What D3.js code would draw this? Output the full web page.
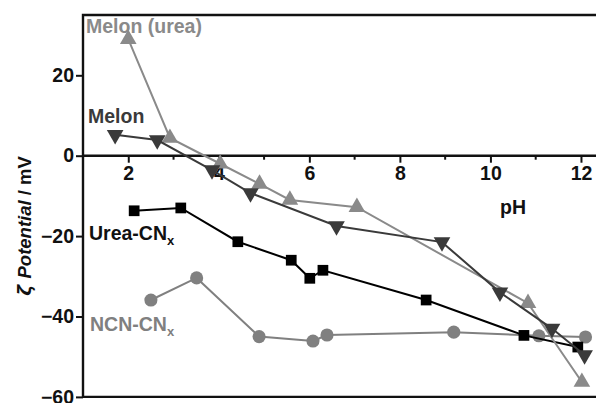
<!DOCTYPE html>
<html>
<head>
<meta charset="utf-8">
<script src="https://cdn.jsdelivr.net/npm/d3@7"></script>
<style>
  body { margin: 0; background: #fff; }
  svg { display: block; font-family: Arial, "Liberation Sans", sans-serif; font-weight: bold; }
</style>
</head>
<body>
<div id="chart"></div>
<script>
// pH values and zeta potentials (mV)
var melonUreaPH = [2.0, 2.92, 4.03, 4.9, 5.57, 7.05, 10.83, 12.02];
var melonUreaZ  = [29, 4.4, -2, -7, -11, -12.8, -36.7, -56.3];

var melonPH = [1.71, 2.64, 3.85, 4.7, 6.6, 8.93, 10.21, 11.36, 12.08];
var melonZ  = [5.2, 3.9, -3.6, -9.3, -17.5, -21.5, -34, -43, -49.6];

var ureaPH = [2.13, 3.16, 4.42, 5.6, 6.01, 6.3, 8.58, 10.74, 11.93];
var ureaZ  = [-13.7, -13.0, -21.4, -26, -30.5, -28.5, -35.9, -44.7, -47.6];

var ncnPH = [2.5, 3.51, 4.89, 6.08, 6.39, 9.19, 11.07, 12.1];
var ncnZ  = [-35.9, -30.4, -45, -46.1, -44.6, -43.9, -44.8, -45.1];

var xTicks = [2, 4, 6, 8, 10, 12];
var xMinor = [3, 5, 7, 9, 11];
var yTicks = [20, 0, -20, -40, -60];

var cfg = {
  w: 596, h: 403,
  margin: {top: 15, left: 83},
  xDomain: [1, 12.5],
  yDomain: [-60, 35],
  pxPerPH: 45.27,
  pxPerMV: 4.02,
  font: "Arial, 'Liberation Sans', sans-serif"
};

var svg = d3.select("#chart").append("svg")
  .attr("width", cfg.w)
  .attr("height", cfg.h);

var x = d3.scaleLinear()
  .domain(cfg.xDomain)
  .range([cfg.margin.left, cfg.margin.left + (cfg.xDomain[1] - cfg.xDomain[0]) * cfg.pxPerPH]);

var y = d3.scaleLinear()
  .domain(cfg.yDomain)
  .range([cfg.margin.top + (cfg.yDomain[1] - cfg.yDomain[0]) * cfg.pxPerMV, cfg.margin.top]);

// frame: left, top, bottom
svg.append("path")
  .attr("d", "M" + x.range()[1] + "," + y(35) + "H" + x(1) + "V" + y(-60) + "H" + x.range()[1])
  .attr("fill", "none")
  .attr("stroke", "#111")
  .attr("stroke-width", 2.4);

// y axis ticks
var yAxis = svg.append("g")
  .attr("transform", "translate(" + x(1) + ",0)")
  .call(d3.axisLeft(y).tickValues(yTicks).tickSize(7).tickPadding(2).tickFormat(d3.format("d")));
yAxis.select(".domain").remove();
yAxis.selectAll("line").attr("stroke", "#111").attr("stroke-width", 2);
yAxis.selectAll("text").attr("font-size", 19.5).attr("font-family", cfg.font).attr("font-weight", "bold").attr("fill", "#111");

// x axis at zero
var xAxis = svg.append("g")
  .attr("transform", "translate(0," + y(0) + ")")
  .call(d3.axisBottom(x).tickValues(xTicks).tickSize(7).tickPadding(3));
xAxis.select(".domain").attr("d", "M" + x(1) + ",0H" + x.range()[1]).attr("stroke", "#111").attr("stroke-width", 2.4);
xAxis.selectAll("line").attr("stroke", "#111").attr("stroke-width", 2);
xAxis.selectAll("text").attr("font-size", 19.5).attr("font-family", cfg.font).attr("font-weight", "bold").attr("fill", "#111");

xAxis.selectAll(".minor")
  .data(xMinor)
  .enter().append("line")
  .attr("class", "minor")
  .attr("x1", function(d) { return x(d); })
  .attr("x2", function(d) { return x(d); })
  .attr("y1", 0).attr("y2", 4)
  .attr("stroke", "#111").attr("stroke-width", 2);

// series
function zipPts(px, pz) { return px.map(function(d, i) { return [d, pz[i]]; }); }

var series = [
  {name: "ncn", data: zipPts(ncnPH, ncnZ), color: "#808080", shape: d3.symbolCircle, size: 135, rot: 0},
  {name: "urea", data: zipPts(ureaPH, ureaZ), color: "#000000", shape: d3.symbolSquare, size: 115, rot: 0},
  {name: "melonUrea", data: zipPts(melonUreaPH, melonUreaZ), color: "#8a8a8a", shape: d3.symbolTriangle, size: 120, rot: 0},
  {name: "melon", data: zipPts(melonPH, melonZ), color: "#3a3a3a", shape: d3.symbolTriangle, size: 120, rot: 180}
];

var line = d3.line()
  .x(function(d) { return x(d[0]); })
  .y(function(d) { return y(d[1]); });

series.forEach(function(s) {
  var g = svg.append("g").attr("class", "series-" + s.name);
  g.append("path")
    .datum(s.data)
    .attr("d", line)
    .attr("fill", "none")
    .attr("stroke", s.color)
    .attr("stroke-width", 2);
  g.selectAll("path.pt")
    .data(s.data)
    .enter().append("path")
    .attr("class", "pt")
    .attr("d", d3.symbol().type(s.shape).size(s.size))
    .attr("transform", function(d) {
      return "translate(" + x(d[0]) + "," + y(d[1]) + ") rotate(" + s.rot + ")";
    })
    .attr("fill", s.color);
});

// labels
function label(txt, sub, px, py, color) {
  var t = svg.append("text")
    .attr("x", px).attr("y", py)
    .attr("fill", color)
    .attr("font-size", 19.5)
    .text(txt);
  if (sub) {
    t.append("tspan").attr("dy", 5).attr("font-size", 13).text(sub);
  }
}
label("Melon (urea)", null, 86, 33, "#8a8a8a");
label("Melon", null, 88, 123, "#3a3a3a");
label("Urea-CN", "x", 89, 240, "#111");
label("NCN-CN", "x", 90, 331, "#808080");

svg.append("text")
  .attr("x", 500).attr("y", 214)
  .attr("font-size", 19.5)
  .attr("fill", "#111")
  .text("pH");

// y axis title
var yt = svg.append("text")
  .attr("transform", "translate(31,226) rotate(-90)")
  .attr("text-anchor", "middle")
  .attr("font-size", 18.5)
  .attr("fill", "#111");
yt.append("tspan").attr("font-style", "italic").attr("font-family", "'DejaVu Sans', sans-serif").attr("fill", "#111").text("ζ ");
yt.append("tspan").attr("font-style", "italic").attr("fill", "#111").text("Potential");
yt.append("tspan").attr("fill", "#111").text(" / mV");
</script>
</body>
</html>
